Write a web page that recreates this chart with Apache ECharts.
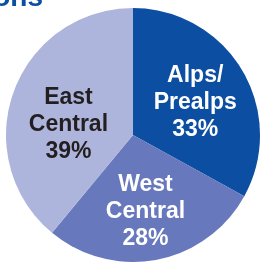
<!DOCTYPE html>
<html>
<head>
<meta charset="utf-8">
<script src="https://cdn.jsdelivr.net/npm/echarts@6/dist/echarts.min.js"></script>
<style>
  html, body { margin: 0; padding: 0; background: #fff; }
  #chart { width: 260px; height: 264px; }
</style>
</head>
<body>
<div id="chart"></div>
<script>
// regions and share (%)
const regions = ['Alps/\nPrealps', 'West\nCentral', 'East\nCentral'];
const shares = [33, 28, 39];
const colors = ['#0b4ea2', '#6778bc', '#aeb5dc'];
const labelColors = ['#ffffff', '#ffffff', '#231f20'];

const chart = echarts.init(document.getElementById('chart'));

// label nudges so they sit where the original has them
const nudges = [[5, 2], [0, 11], [-2, 12]];

chart.setOption({
  backgroundColor: '#fff',
  animation: false,
  graphic: [{
    type: 'text',
    x: 43,
    y: -16,
    style: {
      text: 'gions',
      align: 'right',
      verticalAlign: 'top',
      fill: '#0b4ea2',
      font: 'bold 28px "Liberation Sans", Arial, sans-serif'
    }
  }],
  series: [{
    type: 'pie',
    center: [133, 135],
    radius: [0, 127],
    startAngle: 90,
    clockwise: true,
    silent: true,
    data: regions.map((name, i) => ({
      name: name,
      value: shares[i],
      itemStyle: { color: colors[i] },
      label: { color: labelColors[i] }
    })),
    label: {
      show: true,
      position: 'inside',
      formatter: p => p.name + '\n' + p.value + '%',
      fontFamily: '"Liberation Sans", Arial, sans-serif',
      fontWeight: 'bold',
      fontSize: 23,
      lineHeight: 27,
      align: 'center'
    },
    labelLine: { show: false },
    labelLayout: p => ({ dx: nudges[p.dataIndex][0], dy: nudges[p.dataIndex][1] })
  }]
});
</script>
</body>
</html>
